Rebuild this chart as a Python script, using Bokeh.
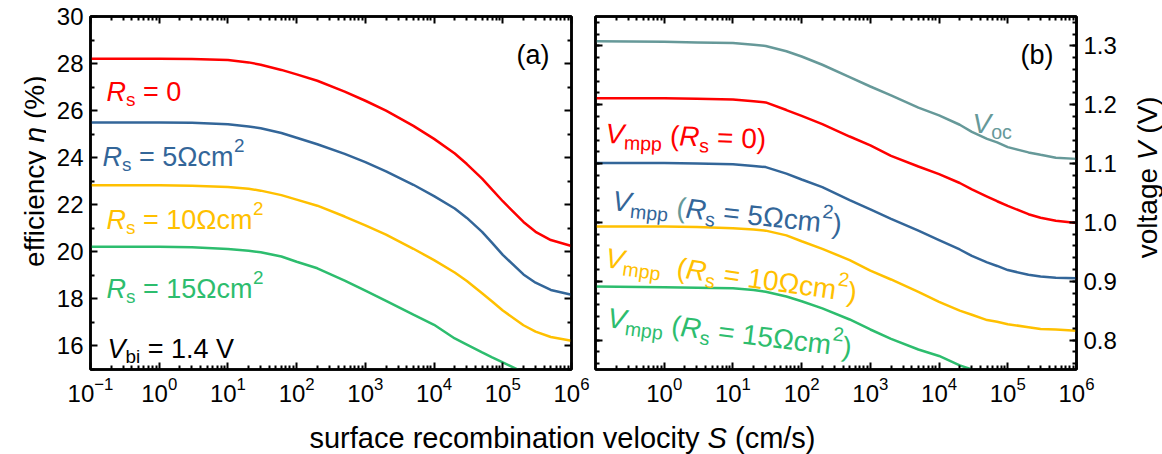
import math
from bokeh.plotting import figure
from bokeh.models import (Range1d, LinearAxis, LogAxis, FixedTicker, Label, CustomJSTickFormatter,
                          PrintfTickFormatter)
from bokeh.layouts import row, column
from bokeh.embed import file_html
from bokeh.resources import INLINE

# ---------------- data ----------------
S = [0.1, 1, 3, 10, 20, 30, 60, 100, 200, 500, 1e3, 2e3, 5e3, 1e4, 2e4, 3e4, 5e4, 7e4, 1e5, 2e5, 3e5, 5e5, 1e6]

eta_rs0 = [28.2, 28.2, 28.19, 28.15, 28.05, 27.95, 27.73, 27.54, 27.27, 26.81, 26.42, 26.0, 25.35, 24.8,
           24.18, 23.73, 23.11, 22.64, 22.15, 21.27, 20.85, 20.5, 20.25]
eta_rs5 = [25.5, 25.5, 25.48, 25.42, 25.33, 25.25, 25.05, 24.85, 24.57, 24.16, 23.81, 23.42, 22.85, 22.37,
           21.84, 21.44, 20.85, 20.38, 19.87, 19.04, 18.69, 18.38, 18.18]
eta_rs10 = [22.83, 22.83, 22.81, 22.75, 22.68, 22.6, 22.41, 22.22, 21.96, 21.5, 21.12, 20.73, 20.13, 19.65,
            19.12, 18.76, 18.24, 17.89, 17.51, 16.88, 16.61, 16.38, 16.22]
eta_rs15 = [20.22, 20.22, 20.19, 20.12, 20.05, 19.98, 19.8, 19.58, 19.3, 18.78, 18.35, 17.92, 17.33, 16.9,
            16.32, 16.06, 15.73, 15.52, 15.3, 14.88, 14.62, 14.35, 14.0]

v_oc = [1.308, 1.307, 1.306, 1.305, 1.302, 1.300, 1.291, 1.282, 1.268, 1.247, 1.231, 1.216, 1.195, 1.182,
        1.166, 1.154, 1.142, 1.136, 1.128, 1.119, 1.115, 1.110, 1.108]
v_mpp_rs0 = [1.211, 1.211, 1.210, 1.209, 1.206, 1.204, 1.191, 1.181, 1.167, 1.146, 1.131, 1.113, 1.095, 1.082,
             1.067, 1.056, 1.044, 1.036, 1.028, 1.014, 1.008, 1.003, 0.999]
v_mpp_rs5 = [1.101, 1.101, 1.100, 1.099, 1.096, 1.094, 1.083, 1.073, 1.060, 1.038, 1.022, 1.006, 0.986, 0.970,
             0.954, 0.943, 0.932, 0.926, 0.919, 0.911, 0.908, 0.906, 0.905]
v_mpp_rs10 = [0.993, 0.993, 0.992, 0.990, 0.988, 0.986, 0.978, 0.968, 0.955, 0.936, 0.918, 0.903, 0.882, 0.865,
              0.850, 0.843, 0.834, 0.831, 0.827, 0.822, 0.819, 0.818, 0.816]
v_mpp_rs15 = [0.891, 0.890, 0.889, 0.888, 0.885, 0.882, 0.874, 0.866, 0.854, 0.835, 0.818, 0.802, 0.784, 0.773,
              0.757, 0.750, 0.740, 0.735, 0.728, 0.720, 0.718, 0.713, 0.710]

x_major = [0.1, 1, 10, 100, 1e3, 1e4, 1e5, 1e6]
x_major_right = [1, 10, 100, 1e3, 1e4, 1e5, 1e6]
eta_major = [16, 18, 20, 22, 24, 26, 28, 30]
eta_minor = [15, 17, 19, 21, 23, 25, 27, 29]
v_major = [0.8, 0.9, 1.0, 1.1, 1.2, 1.3]

# ---------------- style ----------------
RED = "#ff0000"
BLUE = "#336699"
YELLOW = "#ffc000"
GREEN = "#2dbd6e"
TEAL = "#669999"
FONT = "Liberation Sans"

x_minor = [m * 10.0 ** k for k in range(-1, 6) for m in range(2, 10)]
v_minor = [round(0.76 + 0.02 * i, 2) for i in range(30)]

FRAME_TOP, FRAME_H, FRAME_W = 16, 353, 481
TOP_H = 406          # height of the two panel figures
BOTTOM_H = 48        # height of the x-title strip
DEC = FRAME_W / 7.0

WIDTHS = {' ': 278, '(': 333, ')': 333, '%': 889, '.': 278, '/': 278, '-': 333, '=': 584,
          'R': 722, 'S': 667, 'V': 667, 'a': 556, 'b': 556, 'c': 500, 'e': 556, 'f': 278,
          'g': 556, 'i': 222, 'l': 222, 'm': 833, 'n': 556, 'o': 556, 'p': 556, 'r': 333,
          's': 500, 't': 278, 'u': 556, 'v': 500, 'y': 500, 'Ω': 768, 'η': 556}


def tw(text, fs):
    return sum(WIDTHS.get(ch, 556) for ch in text) * fs / 1000.0


def blank(ax):
    ax.formatter = CustomJSTickFormatter(code="return ''")
    ax.major_label_text_font_size = "0px"
    ax.major_label_standoff = 0


def style_axis(ax):
    ax.axis_line_width = 2.5
    ax.axis_line_color = "black"
    ax.major_tick_in = 7
    ax.major_tick_out = 0
    ax.minor_tick_in = 4
    ax.minor_tick_out = 0
    ax.major_tick_line_width = 2
    ax.minor_tick_line_width = 2
    ax.major_tick_line_color = "black"
    ax.minor_tick_line_color = "black"
    ax.major_label_text_font = FONT
    ax.major_label_text_font_size = "24px"
    ax.major_label_text_color = "black"
    ax.major_label_standoff = 7


def rich(p, conv, px, py, segs, size, color, angle_deg=0.0, align="left"):
    small = 0.7
    items = []
    total = 0.0
    for seg in segs:
        text, kind = seg[0], seg[1]
        col = seg[2] if len(seg) > 2 else color
        fs = size * small if kind in ("sub", "sup") else size
        lead = len(text) - len(text.lstrip(" "))
        core = text.strip(" ")
        items.append((total + lead * 0.278 * fs, core, kind, fs, col))
        total += tw(text, fs)
    start = 0.0
    if align == "right":
        start = -total
    elif align == "center":
        start = -total / 2.0
    a = math.radians(angle_deg)
    xd, yd = conv(px, py)
    for d, core, kind, fs, col in items:
        d = d + start
        dy = -0.3 * size if kind == "sub" else (0.42 * size if kind == "sup" else 0.0)
        xo = d * math.cos(a) - dy * math.sin(a)
        yo = d * math.sin(a) + dy * math.cos(a)
        p.add_layout(Label(x=xd, y=yd, x_offset=xo, y_offset=yo, angle=a, text=core,
                           text_font=FONT, text_font_size=f"{fs:.1f}px",
                           text_font_style="italic" if kind == "i" else "normal",
                           text_color=col, text_align="left", text_baseline="alphabetic"))


def make_conv(frame_left, ylo, yhi):
    def conv(px, py):
        xd = 10 ** ((px - frame_left) / DEC - 1)
        yd = yhi - (py - FRAME_TOP) * (yhi - ylo) / FRAME_H
        return xd, yd
    return conv


def base_fig(width, bl, br, ylo, yhi, yloc):
    p = figure(width=width, height=TOP_H, x_axis_type="log", x_range=Range1d(0.1, 1e6),
               y_range=Range1d(ylo, yhi), output_backend="svg", toolbar_location=None,
               title=None, y_axis_location=yloc,
               min_border_left=bl, min_border_right=br, min_border_top=FRAME_TOP,
               min_border_bottom=TOP_H - FRAME_TOP - FRAME_H)
    p.grid.visible = False
    p.outline_line_color = "black"
    p.outline_line_width = 2.5
    p.background_fill_color = "white"
    p.border_fill_color = "white"
    style_axis(p.xaxis[0])
    style_axis(p.yaxis[0])
    return p


def strip_fig(width, height):
    p = figure(width=width, height=height, x_range=Range1d(0, width), y_range=Range1d(0, height),
               output_backend="svg", toolbar_location=None, title=None,
               x_axis_location=None, y_axis_location=None,
               min_border_left=0, min_border_right=0, min_border_top=0, min_border_bottom=0)
    p.grid.visible = False
    p.outline_line_color = None
    p.border_fill_color = "white"
    return p


# page columns: [0,46) y-title | [46,591) panel a | [591,1120) panel b | [1120,1162) y-title
X0, X1, X2, X3 = 46, 591, 1120, 1162

# ---------------- panel (a) ----------------
f1 = base_fig(X1 - X0, 90 - X0, X1 - 571, 15, 30, "left")
f1.xaxis[0].ticker = FixedTicker(ticks=x_major, minor_ticks=x_minor)
f1.yaxis[0].ticker = FixedTicker(ticks=eta_major, minor_ticks=eta_minor)
top1 = LogAxis(ticker=FixedTicker(ticks=x_major, minor_ticks=x_minor))
right1 = LinearAxis(ticker=FixedTicker(ticks=eta_major, minor_ticks=eta_minor))
style_axis(top1)
style_axis(right1)
blank(top1)
blank(right1)
f1.add_layout(top1, "above")
f1.add_layout(right1, "right")

for ys, c in [(eta_rs0, RED), (eta_rs5, BLUE), (eta_rs10, YELLOW), (eta_rs15, GREEN)]:
    f1.line(S, ys, line_width=2.5, line_color=c)

c1 = make_conv(90, 15, 30)
rich(f1, c1, 106, 91, [("R", "i"), ("s", "sub"), (" = 0", "n")], 27, RED)
rich(f1, c1, 102, 156, [("R", "i"), ("s", "sub"), (" = 5Ωcm", "n"), ("2", "sup")], 27, BLUE)
rich(f1, c1, 106, 219, [("R", "i"), ("s", "sub"), (" = 10Ωcm", "n"), ("2", "sup")], 27, YELLOW)
rich(f1, c1, 106, 288, [("R", "i"), ("s", "sub"), (" = 15Ωcm", "n"), ("2", "sup")], 27, GREEN)
rich(f1, c1, 107, 348, [("V", "i"), ("bi", "sub"), (" = 1.4 V", "n")], 27, "black")
rich(f1, c1, 549, 54, [("(a)", "n")], 27, "black", align="right")

# ---------------- panel (b) ----------------
f2 = base_fig(X2 - X1, 595 - X1, X2 - 1076, 0.75, 1.35, "right")
f2.xaxis[0].ticker = FixedTicker(ticks=x_major_right, minor_ticks=x_minor)
f2.yaxis[0].ticker = FixedTicker(ticks=v_major, minor_ticks=v_minor)
f2.yaxis[0].formatter = PrintfTickFormatter(format="%.1f")
top2 = LogAxis(ticker=FixedTicker(ticks=x_major, minor_ticks=x_minor))
left2 = LinearAxis(ticker=FixedTicker(ticks=v_major, minor_ticks=v_minor))
style_axis(top2)
style_axis(left2)
blank(top2)
blank(left2)
f2.add_layout(top2, "above")
f2.add_layout(left2, "left")

for ys, c in [(v_oc, TEAL), (v_mpp_rs0, RED), (v_mpp_rs5, BLUE), (v_mpp_rs10, YELLOW), (v_mpp_rs15, GREEN)]:
    f2.line(S, ys, line_width=2.5, line_color=c)

c2 = make_conv(595, 0.75, 1.35)
rich(f2, c2, 972, 123, [("V", "i"), ("oc", "sub")], 28, TEAL)
rich(f2, c2, 605, 133, [("V", "i"), ("mpp", "sub"), (" (", "n"), ("R", "i"), ("s", "sub"), (" = 0)", "n")], 28, RED, angle_deg=-2)
rich(f2, c2, 612, 200, [("V", "i"), ("mpp", "sub"), (" (", "n", TEAL), ("R", "i"), ("s", "sub"), (" = 5Ωcm", "n"), ("2", "sup"), (")", "n")], 28, BLUE, angle_deg=-6)
rich(f2, c2, 605, 257, [("V", "i"), ("mpp", "sub"), ("  (", "n"), ("R", "i"), ("s", "sub"), (" = 10Ωcm", "n"), ("2", "sup"), (")", "n")], 28, YELLOW, angle_deg=-8)
rich(f2, c2, 607, 317, [("V", "i"), ("mpp", "sub"), (" (", "n"), ("R", "i"), ("s", "sub"), (" = 15Ωcm", "n"), ("2", "sup"), (")", "n")], 28, GREEN, angle_deg=-7)
rich(f2, c2, 1053, 54, [("(b)", "n")], 27, "black", align="right")

# ---------------- y titles (separate strips) ----------------
f0 = strip_fig(X0, TOP_H)
rich(f0, lambda px, py: (px, TOP_H - py), 34, 288,
     [("efficiency ", "n"), ("η", "i"), (" (%)", "n")], 28, "black", angle_deg=90)

f4 = strip_fig(X3 - X2, TOP_H)
rich(f4, lambda px, py: (px - X2, TOP_H - py), 1147, 278,
     [("voltage ", "n"), ("V", "i"), (" (V)", "n")], 28, "black", angle_deg=90)

# ---------------- shared x title ----------------
f3 = strip_fig(X3, BOTTOM_H)
rich(f3, lambda px, py: (px, TOP_H + BOTTOM_H - py), 562, 437,
     [("surface recombination velocity ", "n"), ("S", "i"), (" (cm/s)", "n")], 29, "black", align="center")

layout = column(row(f0, f1, f2, f4), f3)
open("out.html", "w").write(file_html(layout, INLINE))
